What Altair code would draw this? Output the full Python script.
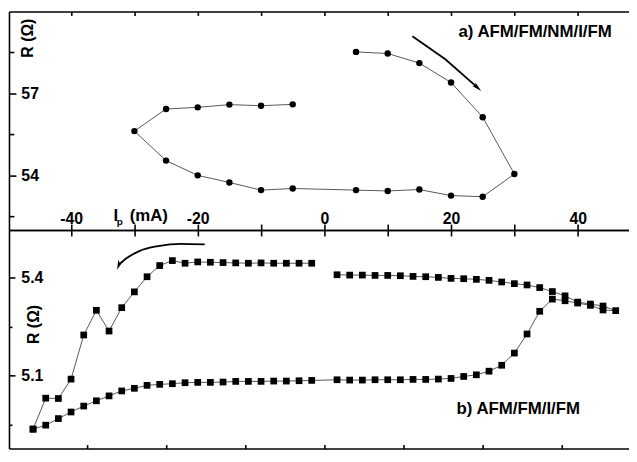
import altair as alt
import pandas as pd

# ---------------- data ----------------
# panel a) : sweep path (mA, Ohm)
top_I = [5, 10, 15, 20, 25, 30, 25, 20, 15, 10, 5, -5, -10, -15, -20, -25, -30, -25, -20, -15, -10, -5]
top_R = [58.52, 58.46, 58.11, 57.40, 56.13, 54.05, 53.22, 53.26, 53.48, 53.43, 53.46,
         53.52, 53.46, 53.74, 54.00, 54.54, 55.62, 56.43, 56.49, 56.59, 56.55, 56.60]

# panel b) : increasing sweep (lower branch)
b_up_I = [-46, -44, -42, -40, -38, -36, -34, -32, -30, -28, -26, -24, -22, -20, -18, -16, -14, -12, -10, -8, -6, -4, -2,
          2, 4, 6, 8, 10, 12, 14, 16, 18, 20, 22, 24, 26, 28, 30, 32, 34, 36, 38, 40, 42, 44, 46]
b_up_R = [4.938, 4.950, 4.970, 4.990, 5.008, 5.024, 5.039, 5.054, 5.062, 5.071, 5.074, 5.076, 5.079, 5.080, 5.080,
          5.081, 5.083, 5.083, 5.083, 5.084, 5.084, 5.085, 5.086,
          5.088, 5.087, 5.087, 5.088, 5.088, 5.088, 5.089, 5.089, 5.090, 5.092, 5.098, 5.103, 5.114, 5.132, 5.169,
          5.227, 5.296, 5.333, 5.328, 5.321, 5.314, 5.300, 5.298]
# decreasing sweep, right part
b_dn1_I = [44, 42, 40, 38, 36, 34, 32, 30, 28, 26, 24, 22, 20, 18, 16, 14, 12, 10, 8, 6, 4, 2]
b_dn1_R = [5.312, 5.318, 5.324, 5.343, 5.356, 5.368, 5.376, 5.380, 5.385, 5.390, 5.393, 5.395, 5.396, 5.399,
           5.401, 5.402, 5.404, 5.405, 5.405, 5.406, 5.406, 5.407]
# decreasing sweep, left part
b_dn2_I = [-2, -4, -6, -8, -10, -12, -14, -16, -18, -20, -22, -24, -26, -28, -30, -32, -34, -36, -38, -40, -42, -44, -46]
b_dn2_R = [5.442, 5.442, 5.442, 5.442, 5.443, 5.442, 5.443, 5.444, 5.445, 5.446, 5.442, 5.450, 5.435, 5.401,
           5.355, 5.307, 5.236, 5.299, 5.224, 5.090, 5.031, 5.032, 4.938]

# arrows (data units)
arrA_I = [13.9, 19.1, 24.1]
arrA_R = [59.09, 58.25, 57.23]
arrB_I = [-18.9, -22.66, -26.25, -29.22, -31.25, -32.42]
arrB_R = [5.499, 5.501, 5.494, 5.479, 5.457, 5.438]

# ticks / labels
x_ticks = [-40, -30, -20, -10, 0, 10, 20, 30, 40]
x_ticks_b = [-37.5, -25, -12.5, 0, 12.5, 25, 37.5]
ya_major = [54, 57]
ya_minor = [52.5, 55.5, 58.5]
yb_major = [5.1, 5.4]
yb_minor = [4.95, 5.25]

W = 627
H1 = 221
H2 = 221
FONT = "Liberation Sans"
WEIGHT = "bold"

xs = alt.Scale(domain=[-49.8, 48.1], nice=False, zero=False)
ys_a = alt.Scale(domain=[52, 60], nice=False, zero=False)
ys_b = alt.Scale(domain=[4.879, 5.543], nice=False, zero=False)

top_df = pd.DataFrame({"I": top_I, "R": top_R, "o": list(range(len(top_I)))})
bot_df = pd.concat([
    pd.DataFrame({"I": b_up_I + b_dn1_I, "R": b_up_R + b_dn1_R, "seg": "a"}),
    pd.DataFrame({"I": b_dn2_I, "R": b_dn2_R, "seg": "b"}),
], ignore_index=True)
bot_df["o"] = range(len(bot_df))
arrA = pd.DataFrame({"I": arrA_I, "R": arrA_R, "o": range(len(arrA_I))})
arrB = pd.DataFrame({"I": arrB_I, "R": arrB_R, "o": range(len(arrB_I))})

HEAD = "M0,-1L0.42,0.75L0,0.35L-0.42,0.75Z"

def ax(orient, offset, values, size, labels=False, expr=None, pad=1, domain=True, baseline=None):
    kw = dict(orient=orient, offset=offset, values=values, tickSize=size, labels=labels,
              title=None, grid=False, domain=domain)
    if labels:
        kw.update(labelExpr=expr, labelPadding=pad, labelFontSize=16, labelFont=FONT,
                  labelFontWeight=WEIGHT, labelColor="black", labelFlush=False, labelOverlap=False)
        if baseline:
            kw["labelBaseline"] = baseline
    return alt.Axis(**kw)

def txt(s, x, y, size=17, angle=None, align="center", baseline="middle"):
    kw = dict(font=FONT, fontSize=size, fontWeight=WEIGHT, color="black", align=align, baseline=baseline)
    if angle is not None:
        kw["angle"] = angle
    return alt.Chart(pd.DataFrame({"t": [s]})).mark_text(**kw).encode(
        x=alt.value(x), y=alt.value(y), text="t:N")

# ---------------- panel a ----------------
a_line = alt.Chart(top_df).mark_line(color="#444", strokeWidth=0.9).encode(
    x=alt.X("I:Q", scale=xs, axis=ax("bottom", -H1, x_ticks, 4)),
    y=alt.Y("R:Q", scale=ys_a, axis=ax("right", -W, ya_major, 7, True, "'' + datum.value", 5)),
    order="o:Q")
a_pts = alt.Chart(top_df).mark_point(shape="circle", filled=True, color="black", size=42, opacity=1).encode(
    x=alt.X("I:Q", scale=xs, axis=ax("top", -H1, x_ticks, 6, True,
                                     "datum.value % 20 === 0 ? '' + datum.value : ''", 1,
                                     baseline="alphabetic")),
    y=alt.Y("R:Q", scale=ys_a, axis=ax("right", -W, ya_minor, 5, domain=False)))
a_arr = alt.Chart(arrA).mark_line(color="black", strokeWidth=1.8).encode(
    x=alt.X("I:Q", scale=xs, axis=None), y=alt.Y("R:Q", scale=ys_a, axis=None), order="o:Q")
a_head = alt.Chart(arrA.tail(1)).mark_point(shape=HEAD, filled=True, color="black", size=130,
                                            opacity=1, angle=132).encode(
    x=alt.X("I:Q", scale=xs, axis=None), y=alt.Y("R:Q", scale=ys_a, axis=None))

top = alt.layer(
    a_line, a_pts, a_arr, a_head,
    txt("a) AFM/FM/NM/I/FM", 532, 20.5),
    txt("R (\u03a9)", 19.5, 27, size=16, angle=270),
    txt("I", 108, 212, size=17, baseline="alphabetic"),
    txt("p", 112, 215.5, size=10, baseline="alphabetic"),
    txt("(mA)", 122, 211.5, size=17, align="left", baseline="alphabetic"),
).resolve_axis(x="independent", y="independent").properties(width=W, height=H1)

# ---------------- panel b ----------------
b_line = alt.Chart(bot_df).mark_line(color="#444", strokeWidth=0.9).encode(
    x=alt.X("I:Q", scale=xs, axis=ax("bottom", -H2, x_ticks, 6)),
    y=alt.Y("R:Q", scale=ys_b, axis=ax("right", -W, yb_major, 6, True, "'' + datum.value", 6)),
    detail="seg:N", order="o:Q")
b_pts = alt.Chart(bot_df).mark_point(shape="square", filled=True, color="black", size=46, opacity=1).encode(
    x=alt.X("I:Q", scale=xs, axis=ax("top", -H2, x_ticks_b, 4)),
    y=alt.Y("R:Q", scale=ys_b, axis=ax("right", -W, yb_minor, 3, domain=False)))
b_arr = alt.Chart(arrB).mark_line(color="black", strokeWidth=1.8, interpolate="monotone").encode(
    x=alt.X("I:Q", scale=xs, axis=None), y=alt.Y("R:Q", scale=ys_b, axis=None), order="o:Q")
b_head = alt.Chart(arrB.tail(1)).mark_point(shape=HEAD, filled=True, color="black", size=130,
                                            opacity=1, angle=200).encode(
    x=alt.X("I:Q", scale=xs, axis=None), y=alt.Y("R:Q", scale=ys_b, axis=None))

bot = alt.layer(
    b_line, b_pts, b_arr, b_head,
    txt("b) AFM/FM/I/FM", 515, 181),
    txt("R (\u03a9)", 25.5, 95.5, size=16, angle=270),
).resolve_axis(x="independent", y="independent").properties(width=W, height=H2)

chart = alt.vconcat(top, bot, spacing=0, bounds="flush").properties(
    padding=0, background="white"
).configure_view(stroke=None).configure_axis(
    domainColor="black", domainWidth=1.6, tickColor="black", tickWidth=1.6, grid=False
)

chart.save("out.html", embed_options={"renderer": "svg", "actions": False})
